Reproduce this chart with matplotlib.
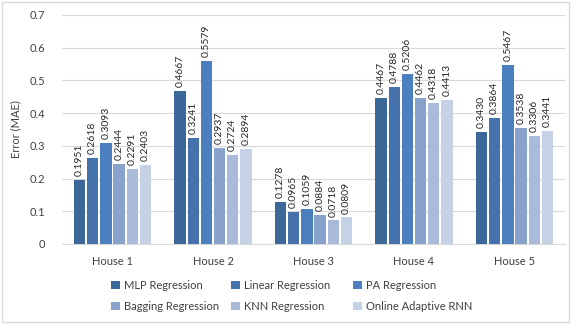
import matplotlib
matplotlib.use("Agg")
import matplotlib.pyplot as plt
import numpy as np
from matplotlib.patches import Rectangle

plt.rcParams['font.family'] = ['Lato', 'DejaVu Sans']

houses = ["House 1", "House 2", "House 3", "House 4", "House 5"]
models = ["MLP Regression", "Linear Regression", "PA Regression",
          "Bagging Regression", "KNN Regression", "Online Adaptive RNN"]
mlp = [0.1951, 0.4667, 0.1278, 0.4467, 0.3430]
linear = [0.2618, 0.3241, 0.0965, 0.4788, 0.3864]
pa = [0.3093, 0.5579, 0.1059, 0.5206, 0.5467]
bagging = [0.2444, 0.2937, 0.0884, 0.4462, 0.3538]
knn = [0.2291, 0.2724, 0.0718, 0.4318, 0.3306]
rnn = [0.2403, 0.2894, 0.0809, 0.4413, 0.3441]
series = [mlp, linear, pa, bagging, knn, rnn]
colors = ["#3C6799", "#4571AC", "#4C7FBE", "#88A2CB", "#A9BADA", "#C5D1E5"]

fig = plt.figure(figsize=(5.71, 3.24), dpi=100)
ax = fig.add_axes([0.109, 0.247, 0.880, 0.707])

x = np.arange(len(houses))
n = len(series)
step = 0.131
width = 0.113
handles = []
for i, (vals, c, name) in enumerate(zip(series, colors, models)):
    pos = x + (i - (n - 1) / 2) * step
    bars = ax.bar(pos, vals, width, color=c, label=name, zorder=3)
    handles.append(bars)
    for b, v in zip(bars, vals):
        ax.text(b.get_x() + b.get_width() / 2, v + 0.012, f"{v:.4f}",
                rotation=90, ha="center", va="bottom", fontsize=7.5,
                color="#262626", zorder=4)

ax.set_ylim(0, 0.7)
ax.set_xlim(-0.5, len(houses) - 0.5)
ax.set_yticks(np.arange(0, 0.71, 0.1))
ax.set_yticklabels(["0", "0.1", "0.2", "0.3", "0.4", "0.5", "0.6", "0.7"])
ax.set_xticks(x)
ax.set_xticklabels(houses)
ax.tick_params(axis="both", length=0, labelsize=8, colors="#404040")
ax.tick_params(axis="x", pad=9)
ax.tick_params(axis="y", pad=12)
ax.grid(axis="y", color="#D9D9D9", linewidth=0.8, zorder=0)
for s in ["top", "right", "left"]:
    ax.spines[s].set_visible(False)
ax.spines["bottom"].set_color("#D9D9D9")
ax.set_ylabel("Error (MAE)", fontsize=8, color="#404040", labelpad=6)

# legend: three fixed-width columns, two entries each
col_x = [0.195, 0.405, 0.619]
for col, x0 in enumerate(col_x):
    idx = [col, col + 3]
    fig.legend([handles[k] for k in idx], [models[k] for k in idx],
               loc="center left", bbox_to_anchor=(x0, 0.087), frameon=False,
               fontsize=8, handlelength=0.75, handleheight=0.75,
               handletextpad=0.4, labelspacing=0.85, borderpad=0,
               borderaxespad=0, labelcolor="#404040")

fig.patches.append(Rectangle((0.004, 0.006), 0.992, 0.988, transform=fig.transFigure,
                             fill=False, edgecolor="#D9D9D9", linewidth=1.0))

fig.savefig("out.png", dpi=100, facecolor="white")
